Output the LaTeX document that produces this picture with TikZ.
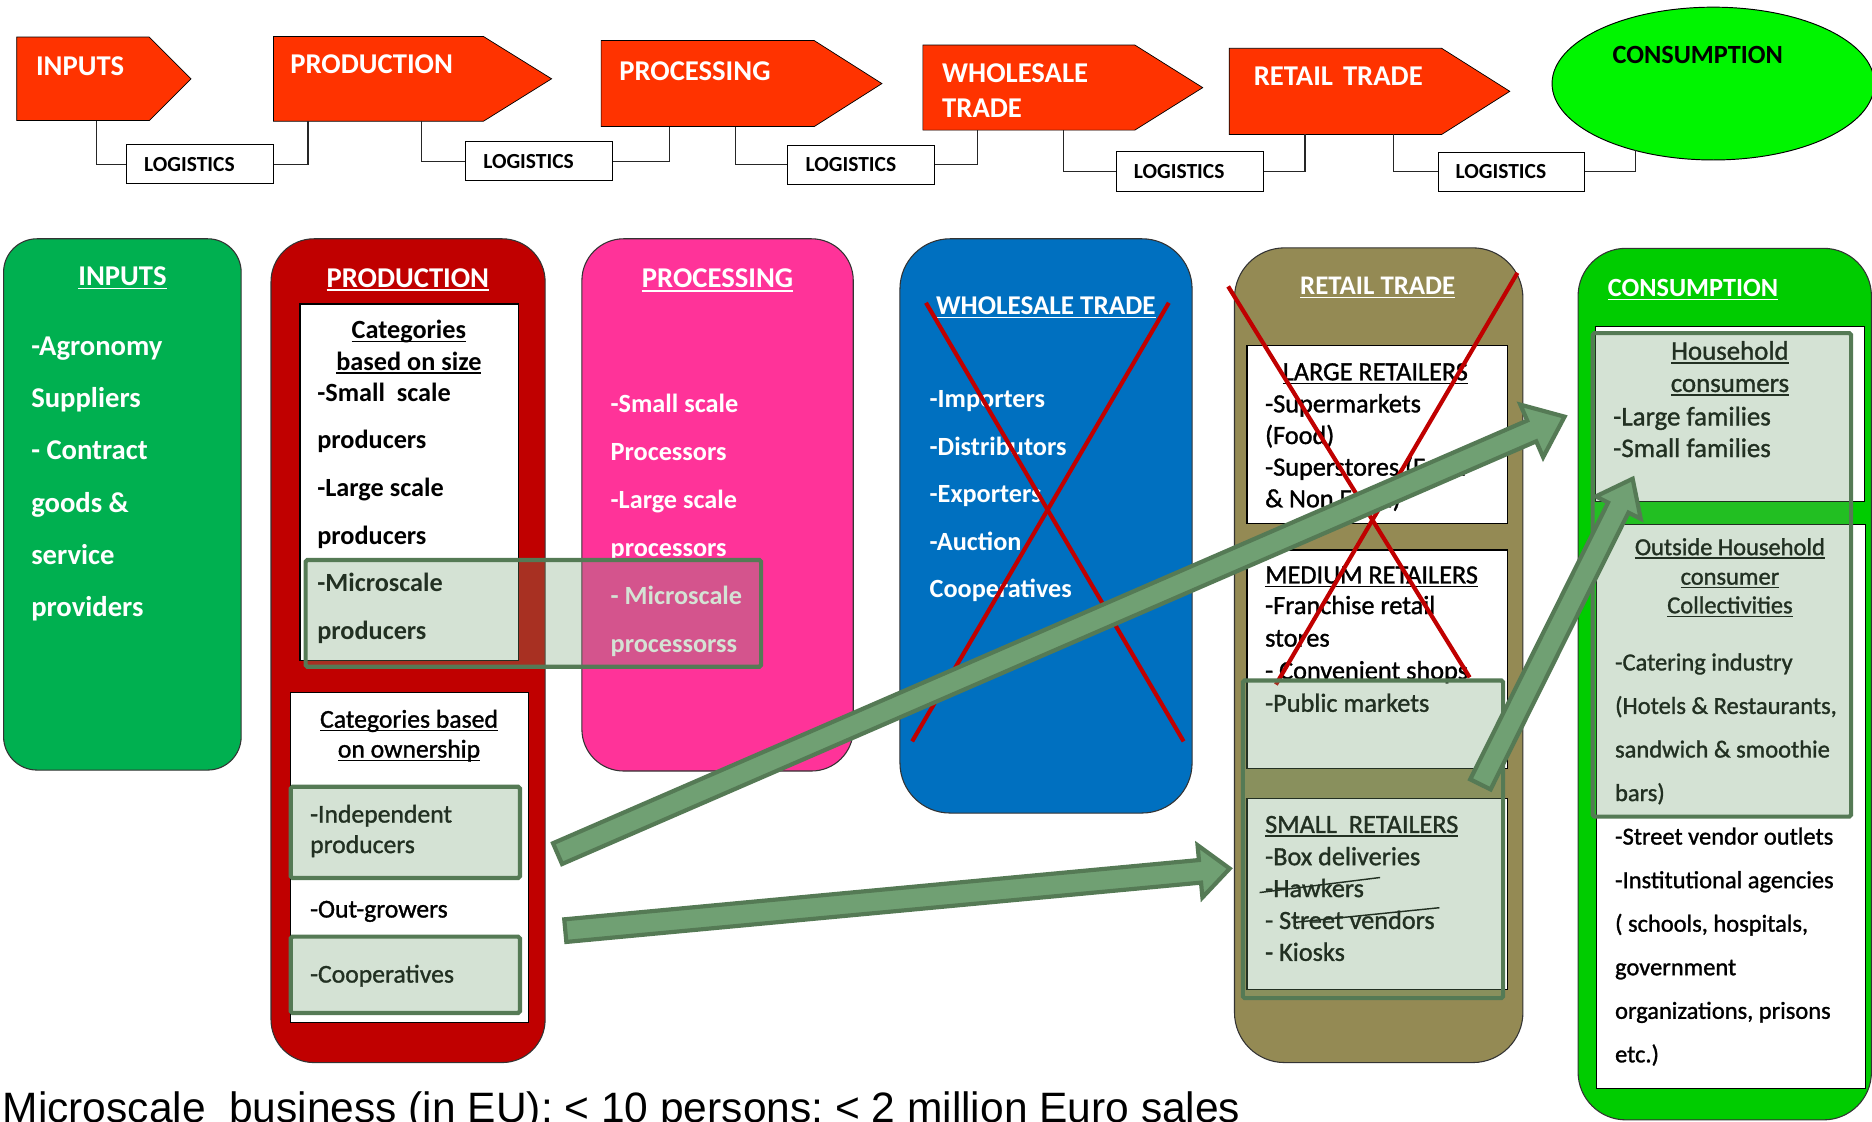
\documentclass[tikz,border=0pt]{standalone}
\usepackage{fontspec}
\setmainfont{Carlito}
\newfontfamily\arialf{Liberation Sans}
\newfontfamily\rb[FakeBold=1.2]{Carlito}
\newcommand{\rbf}[2]{\rb\fontsize{#1}{#2}\selectfont}
\newcommand{\myul}[1]{\setbox0\hbox{#1}\leavevmode\rlap{\rule[-3.2pt]{\wd0}{1.3pt}}\box0}
\usetikzlibrary{shapes.geometric,calc}
\definecolor{toprd}{RGB}{255,51,0}
\definecolor{inpgreen}{RGB}{0,176,80}
\definecolor{prodred}{RGB}{192,0,0}
\definecolor{procpink}{RGB}{255,51,153}
\definecolor{wholeblue}{RGB}{0,112,192}
\definecolor{retolive}{RGB}{148,138,84}
\definecolor{consgreen}{RGB}{0,204,0}
\definecolor{ellgreen}{RGB}{0,245,0}
\definecolor{ovfill}{RGB}{114,161,114}
\definecolor{ovline}{RGB}{85,122,85}
\definecolor{arrfill}{RGB}{112,160,115}
\definecolor{xred}{RGB}{192,0,0}
\newcommand{\blockarr}[5]{%
  \coordinate (bah) at ($(#2)!#5!(#1)$);
  \draw[bigarr] ($(#1)!#3!90:(#2)$) -- ($(bah)!#3!90:(#2)$) -- ($(bah)!#4!90:(#2)$) -- (#2)
    -- ($(bah)!#4!-90:(#2)$) -- ($(bah)!#3!-90:(#2)$) -- ($(#1)!#3!-90:(#2)$) -- cycle;}
\begin{document}
\begin{tikzpicture}[x=1pt,y=-1pt,
  toparr/.style={draw=black,fill=toprd,line width=0.6},
  tlab/.style={text=white,anchor=base west,inner sep=0,font=\fontsize{24}{28}\selectfont\bfseries},
  logbox/.style={draw=black,fill=white,line width=0.8,minimum width=123,minimum height=33,inner sep=0},
  loglab/.style={anchor=west,inner sep=0,font=\fontsize{18}{20}\selectfont\bfseries,text height=11.6pt,text depth=0pt},
  conn/.style={draw=black!85,line width=1},
  col/.style={draw=black!80,line width=0.9},
  wbox/.style={draw=black,fill=white,line width=1},
  ov/.style={fill=ovfill,fill opacity=0.3,draw=ovline,line width=3.5,rounded corners=1.5},
  xl/.style={draw=xred,line width=3.5},
  strk/.style={draw=black,line width=1.2},
  bigarr/.style={fill=arrfill,draw=ovline,line width=3.5,line join=miter},
  wt/.style={text=white,anchor=base west,inner sep=0,font=\fontsize{22}{26}\selectfont\bfseries},
  wtc/.style={wt,anchor=base},
  bt/.style={text=black,anchor=base west,inner sep=0,font=\rbf{22}{26}},
  btc/.style={bt,anchor=base}]
\useasboundingbox (0,0) rectangle (1568,939);
\fill[white] (0,0) rectangle (1568,939);

% ---------- top row ----------
\draw[toparr] (14,31) -- (125,31) -- (160,66) -- (125,101) -- (14,101) -- cycle;
\draw[toparr] (229,30.6) -- (405,30.6) -- (462,66) -- (405,101.5) -- (229,101.5) -- cycle;
\draw[toparr] (503.5,34) -- (682,34) -- (738.7,70) -- (682,106) -- (503.5,106) -- cycle;
\draw[toparr] (773,37.7) -- (950.5,37.7) -- (1007.4,73.4) -- (950.5,109) -- (773,109) -- cycle;
\draw[toparr] (1029.6,40.5) -- (1207.6,40.5) -- (1264.6,76.5) -- (1207.6,112.6) -- (1029.6,112.6) -- cycle;
\node[ellipse,draw=black,fill=ellgreen,line width=0.8,minimum width=270,minimum height=128,inner sep=0] (constop) at (1435,70) {};
\node[tlab] (tinp) at (30,63.6) {INPUTS};
\node[tlab] (tprod) at (243,61.9) {PRODUCTION};
\node[tlab] (tproc) at (518.5,67.2) {PROCESSING};
\node[tlab] (twh1) at (789,68.8) {WHOLESALE};
\node[tlab] (twh2) at (789,98.8) {TRADE};
\node[tlab] (tret) at (1050,71.8) {RETAIL\hspace{0.35em}TRADE};
\node[tlab,text=black,anchor=base,font=\fontsize{22}{26}\selectfont\bfseries] (tcons) at (1422,53.2) {CONSUMPTION};

\node[logbox] (log1) at (167.5,137.5) {};
\node[logbox] (log2) at (451.5,135) {};
\node[logbox] (log3) at (721.5,138) {};
\node[logbox] (log4) at (996.5,143.5) {};
\node[logbox] (log5) at (1266,143.8) {};
\foreach \k in {1,...,5}
  \node[loglab] (logt\k) at ([xshift=15pt]log\k.west) {LOGISTICS};

\coordinate (c1a) at (81,101);   \coordinate (c1b) at (258,101.5);
\coordinate (c2a) at (353,101.5); \coordinate (c2b) at (560.6,106);
\coordinate (c3a) at (616,106);  \coordinate (c3b) at (819,109);
\coordinate (c4a) at (891,109);  \coordinate (c4b) at (1093,112.6);
\coordinate (c5a) at (1167,112.6); \coordinate (c5b) at (1370,126);
\draw[conn] (c1a) |- (log1.west);  \draw[conn] (log1.east) -| (c1b);
\draw[conn] (c2a) |- (log2.west);  \draw[conn] (log2.east) -| (c2b);
\draw[conn] (c3a) |- (log3.west);  \draw[conn] (log3.east) -| (c3b);
\draw[conn] (c4a) |- (log4.west);  \draw[conn] (log4.east) -| (c4b);
\draw[conn] (c5a) |- (log5.west);  \draw[conn] (log5.east) -| (c5b);

% ---------- columns ----------
\draw[col,fill=inpgreen,rounded corners=28] (3,200) rectangle (202,645);
\draw[col,fill=prodred,rounded corners=36] (227,200) rectangle (456.6,890);
\draw[col,fill=procpink,rounded corners=35] (487.4,200) rectangle (714.7,645.8);
\draw[col,fill=wholeblue,rounded corners=42] (753.8,200) rectangle (998.5,681);
\draw[col,fill=retolive,rounded corners=42] (1034,207.6) rectangle (1275.6,890);
\draw[col,fill=consgreen,rounded corners=40] (1321.8,208) rectangle (1567.5,938);

% INPUTS
\node[wtc,font=\fontsize{24}{28}\selectfont\bfseries] (hinp) at (102.6,239) {\myul{INPUTS}};
\foreach \t [count=\i from 0] in {-Agronomy,Suppliers,- Contract,goods \&,service,providers}
  \node[wt,font=\fontsize{24}{28}\selectfont\bfseries] (inp\i) at (26,297.5+43.8*\i) {\t};

% PRODUCTION
\node[wtc,font=\fontsize{24}{28}\selectfont\bfseries] (hprod) at (341.6,240.5) {\myul{PRODUCTION}};
\draw[wbox] (251.3,254.6) rectangle (434.3,553);
\node[btc,font=\fontsize{22}{26}\selectfont\bfseries] (pc1) at (342.5,283.5) {\myul{Categories}};
\node[btc,font=\fontsize{22}{26}\selectfont\bfseries] (pc2) at (342.5,310) {\myul{based on size}};
\foreach \t [count=\i from 0] in {-Small\hspace{0.45em}scale,producers,-Large scale,producers,-Microscale,producers}
  \node[bt,font=\fontsize{22}{26}\selectfont\bfseries] (ps\i) at (265.6,335.9+39.95*\i) {\t};
\draw[wbox] (243.5,580) rectangle (442.5,856.5);
\node[btc,font=\rbf{21.5}{26}] (po1) at (342.6,609.5) {\myul{Categories based}};
\node[btc,font=\rbf{21.5}{26}] (po2) at (342.6,634.5) {\myul{on ownership}};
\node[bt,font=\rbf{21.5}{26}] (po3) at (259.6,689) {-Independent};
\node[bt,font=\rbf{21.5}{26}] (po4) at (259.6,714.5) {producers};
\node[bt,font=\rbf{21.5}{26}] (po5) at (259.6,768.5) {-Out-growers};
\node[bt,font=\rbf{21.5}{26}] (po6) at (259.6,823) {-Cooperatives};

% PROCESSING
\node[wtc,font=\fontsize{24}{28}\selectfont\bfseries] (hproc) at (601,241) {\myul{PROCESSING}};
\foreach \t [count=\i from 0] in {-Small scale,Processors,-Large scale,processors,- Microscale,processorss}
  \node[wt] (pr\i) at (511.3,345.2+40.2*\i) {\t};

% WHOLESALE
\node[wtc,font=\fontsize{22.7}{27}\selectfont\bfseries] (hwh) at (876,263.5) {\myul{WHOLESALE TRADE}};
\foreach \t [count=\i from 0] in {-Importers,-Distributors,-Exporters,-Auction,Cooperatives}
  \node[wt] (wh\i) at (778.5,341.4+39.85*\i) {\t};
\coordinate (wx1) at (775.6,253.6); \coordinate (wx2) at (991.4,621);
\coordinate (wx3) at (979,253.6);   \coordinate (wx4) at (764,621);
\draw[xl] (wx1) -- (wx2);
\draw[xl] (wx3) -- (wx4);

% RETAIL
\node[wtc,font=\fontsize{22.5}{27}\selectfont\bfseries] (hret) at (1154,246.8) {\myul{RETAIL TRADE}};
\draw[wbox] (1044.4,289.3) rectangle (1262.6,438.8);
\draw[wbox] (1044.4,460.6) rectangle (1262.6,643.7);
\draw[wbox] (1044.4,668.6) rectangle (1262.6,829);
\node[btc] (rl0) at (1152,318.5) {\myul{LARGE RETAILERS}};
\foreach \t [count=\i from 0] in {-Supermarkets,(Food),-Superstores (Food,\& Non Food)}
  \node[bt] (rl\i x) at (1059.5,345.4+26.5*\i) {\t};
\node[bt] (rm0) at (1059.5,488.7) {\myul{MEDIUM RETAILERS}};
\foreach \t [count=\i from 0] in {-Franchise retail,stores,- Convenient shops,-Public markets}
  \node[bt] (rm\i x) at (1059.5,514.3+27.3*\i) {\t};
\node[bt] (rs0) at (1059.5,697.7) {\myul{SMALL\ \ RETAILERS}};
\foreach \t [count=\i from 0] in {-Box deliveries,-Hawkers,- Street vendors,- Kiosks}
  \node[bt] (rs\i x) at (1059.5,724.7+26.7*\i) {\t};
\coordinate (hk1) at (1055,747.6); \coordinate (hk2) at (1156,735);
\coordinate (sv1) at (1085,772.5); \coordinate (sv2) at (1205.7,760.3);
\draw[strk] (hk1) -- (hk2);
\draw[strk] (sv1) -- (sv2);
\coordinate (rx1) at (1028.7,239.9); \coordinate (rx2) at (1231,567.4);
\coordinate (rx3) at (1271,228.5);   \coordinate (rx4) at (1068.7,573.4);
\draw[xl] (rx1) -- (rx2);
\draw[xl] (rx3) -- (rx4);

% CONSUMPTION
\node[wt] (hcons) at (1346.5,248.2) {\myul{CONSUMPTION}};
\draw[wbox] (1336.6,273.6) rectangle (1562,420);
\draw[wbox] (1337,439) rectangle (1562.5,911.5);
\node[btc,font=\rbf{22.5}{27}] (ch1) at (1449,301.3) {\myul{Household}};
\node[btc,font=\rbf{22.5}{27}] (ch2) at (1449,328.3) {\myul{consumers}};
\node[bt,font=\rbf{22.5}{27}] (ch3) at (1351,356.3) {-Large families};
\node[bt,font=\rbf{22.5}{27}] (ch4) at (1351,382.8) {-Small families};
\node[btc,font=\rbf{20.5}{25}] (co1) at (1449,465) {\myul{Outside Household}};
\node[btc,font=\rbf{20.5}{25}] (co2) at (1449,489.7) {\myul{consumer}};
\node[btc,font=\rbf{20.5}{25}] (co3) at (1449,513.7) {\myul{Collectivities}};
\foreach \t [count=\i from 0] in {-Catering industry,{(Hotels \& Restaurants,},sandwich \& smoothie,bars),-Street vendor outlets,-Institutional agencies,{( schools, hospitals,},government,{organizations, prisons},etc.)}
  \node[bt,font=\rbf{20.5}{25}] (cl\i) at (1352.6,561.5+36.48*\i) {\t};

% ---------- highlight overlays ----------
\draw[ov] (256,469) rectangle (637.5,558.5);
\draw[ov] (243.5,659) rectangle (435.5,735.4);
\draw[ov] (243.5,784.5) rectangle (435.5,848.5);
\draw[ov] (1041,570) rectangle (1259,836);
\draw[ov] (1334,279) rectangle (1550.5,684);

% ---------- big arrows ----------
\coordinate (a1t) at (467,715);    \coordinate (a1h) at (1310.5,349);
\coordinate (a2t) at (473.5,779.5); \coordinate (a2h) at (1030,727.5);
\coordinate (a3t) at (1240,657);   \coordinate (a3h) at (1367.5,401);
\blockarr{a1t}{a1h}{9.5pt}{24pt}{30pt}
\blockarr{a2t}{a2h}{9.5pt}{22pt}{25pt}
\blockarr{a3t}{a3h}{9.5pt}{21pt}{27pt}

% ---------- footnote ----------
\node[anchor=base west,inner sep=0,font=\arialf\fontsize{35.6}{40}\selectfont] (note) at (2,940) {Microscale\ \ business (in EU): < 10 persons; < 2 million Euro sales};
\end{tikzpicture}
\end{document}
